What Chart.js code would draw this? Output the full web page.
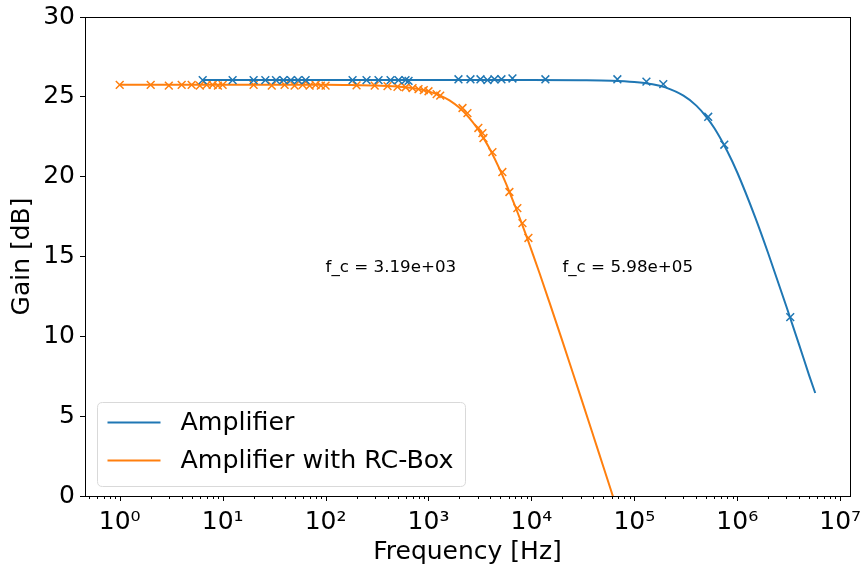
<!DOCTYPE html>
<html>
<head>
<meta charset="utf-8">
<script src="https://cdn.jsdelivr.net/npm/chart.js@4.4.0/dist/chart.umd.min.js"></script>
<style>
  html, body { margin: 0; padding: 0; background: #fff; }
</style>
</head>
<body>
<canvas id="chart" width="863" height="567"></canvas>
<script>
// measured points (x markers)
const ampFreq = [6.4, 12.5, 20, 26, 33, 39, 46, 54, 64, 183, 250, 327, 428, 511, 598, 640,
  1955, 2557, 3199, 3741, 4374, 5115, 6541, 13670, 68400, 131000, 191000, 522000, 748000, 3270000];
const ampGain = [26.05, 26.05, 26.05, 26.05, 26.05, 26.05, 26.05, 26.05, 26.05, 26.05, 26.05, 26.05, 26.05, 26.05, 26.05, 26.0,
  26.1, 26.1, 26.1, 26.05, 26.1, 26.1, 26.15, 26.1, 26.1, 25.95, 25.8, 23.75, 22.0, 11.2];

const rcFreq = [1, 2, 3, 4, 5, 6, 7, 8, 9, 10, 20, 30, 40, 50, 60, 70, 80, 90, 100,
  200, 300, 400, 500, 600, 700, 800, 900, 1000, 1200, 1300,
  2140, 2390, 3050, 3340, 3420, 4180, 5220, 6110, 7300, 8180, 9350];
const rcGain = [25.75, 25.75, 25.7, 25.75, 25.75, 25.7, 25.75, 25.75, 25.7, 25.75, 25.75, 25.7, 25.75, 25.7, 25.75, 25.7, 25.75, 25.7, 25.7,
  25.72, 25.7, 25.67, 25.63, 25.6, 25.55, 25.48, 25.42, 25.35, 25.17, 25.08,
  24.3, 23.98, 23.05, 22.73, 22.42, 21.54, 20.29, 19.04, 18.03, 17.09, 16.16];

// fitted curves (lines)
const ampFitFreq = [6.4, 100, 1000, 10000, 30000, 60000, 100000, 150000, 200000, 300000, 400000, 500000,
  600000, 800000, 1000000, 1500000, 2000000, 3000000, 4000000, 5000000, 5720000];
const ampFitGain = [26.05, 26.05, 26.05, 26.05, 26.04, 26.01, 25.93, 25.79, 25.59, 25.07, 24.45, 23.75,
  23.03, 21.59, 20.26, 17.42, 15.19, 11.87, 9.45, 7.54, 6.45];

const rcFitFreq = [1, 10, 100, 200, 300, 500, 700, 1000, 1300, 1600, 2000, 2500, 3000, 3500, 4000, 5000,
  6000, 7000, 8000, 9000, 10000, 12000, 15000, 20000, 25000, 30000, 40000, 50000, 61800];
const rcFitGain = [25.75, 25.75, 25.75, 25.73, 25.71, 25.64, 25.55, 25.34, 25.08, 24.78, 24.31, 23.67, 23.0, 22.32, 21.65, 20.36,
  19.18, 18.10, 17.12, 16.23, 15.40, 13.95, 12.11, 9.70, 7.80, 6.24, 3.76, 1.83, 0];

const seriesLabels = ['Amplifier', 'Amplifier with RC-Box'];
const xMajorExps = [0, 1, 2, 3, 4, 5, 6, 7];
const yTicks = [0, 5, 10, 15, 20, 25, 30];
const notes = [
  { x: 100, y: 14, text: 'f_c = 3.19e+03' },
  { x: 20000, y: 14, text: 'f_c = 5.98e+05' }
];

const BLUE = '#1f77b4';
const ORANGE = '#ff7f0e';
const FONT = 'DejaVu Sans';
const sup = ['⁰', '¹', '²', '³', '⁴', '⁵', '⁶', '⁷', '⁸', '⁹'];

const pts = (xs, ys) => xs.map((x, i) => ({ x: x, y: ys[i] }));

function markerSet(xs, ys, color) {
  return {
    data: pts(xs, ys),
    showLine: false,
    pointStyle: 'crossRot',
    pointRadius: 5.5,
    pointBorderWidth: 1.5,
    borderColor: color,
    backgroundColor: color
  };
}

function fitSet(xs, ys, color, label) {
  return {
    label: label,
    inLegend: true,
    data: pts(xs, ys),
    showLine: true,
    pointRadius: 0,
    borderWidth: 2,
    borderColor: color,
    backgroundColor: color,
    cubicInterpolationMode: 'monotone'
  };
}

const frameAndTicks = {
  id: 'frameAndTicks',
  afterDraw(chart) {
    const ctx = chart.ctx;
    const a = chart.chartArea;
    const xs = chart.scales.x;
    ctx.save();
    ctx.strokeStyle = '#000';
    ctx.lineWidth = 1;
    // x tick marks, majors longer than minors
    xs.ticks.forEach(t => {
      const px = Math.round(xs.getPixelForValue(t.value)) + 0.5;
      const len = t.major ? 5 : 3;
      ctx.beginPath();
      ctx.moveTo(px, a.bottom);
      ctx.lineTo(px, a.bottom + len);
      ctx.stroke();
    });
    ctx.strokeRect(Math.round(a.left) + 0.5, Math.round(a.top) + 0.5,
      Math.round(a.right - a.left), Math.round(a.bottom - a.top));
    ctx.restore();
  }
};

const notesAndLegend = {
  id: 'notesAndLegend',
  afterDatasetsDraw(chart) {
    const ctx = chart.ctx;
    const a = chart.chartArea;
    const xs = chart.scales.x, ys = chart.scales.y;
    ctx.save();
    ctx.fillStyle = '#000';
    ctx.font = '16.7px "' + FONT + '"';
    ctx.textAlign = 'left';
    ctx.textBaseline = 'alphabetic';
    notes.forEach(n => ctx.fillText(n.text, xs.getPixelForValue(n.x), ys.getPixelForValue(n.y)));

    // legend box, lower left
    const items = chart.data.datasets.filter(d => d.inLegend);
    const bx = a.left + 12.5, bw = 368, bh = 84;
    const by = a.bottom - 10 - bh + 0.5;
    const r = 5;
    ctx.beginPath();
    ctx.moveTo(bx + r, by);
    ctx.lineTo(bx + bw - r, by);
    ctx.quadraticCurveTo(bx + bw, by, bx + bw, by + r);
    ctx.lineTo(bx + bw, by + bh - r);
    ctx.quadraticCurveTo(bx + bw, by + bh, bx + bw - r, by + bh);
    ctx.lineTo(bx + r, by + bh);
    ctx.quadraticCurveTo(bx, by + bh, bx, by + bh - r);
    ctx.lineTo(bx, by + r);
    ctx.quadraticCurveTo(bx, by, bx + r, by);
    ctx.closePath();
    ctx.fillStyle = 'rgba(255,255,255,0.8)';
    ctx.fill();
    ctx.strokeStyle = '#d9d9d9';
    ctx.lineWidth = 1;
    ctx.stroke();

    ctx.font = '25.3px "' + FONT + '"';
    ctx.textBaseline = 'middle';
    items.forEach((d, i) => {
      const cy = by + 20 + i * 38;
      ctx.strokeStyle = d.borderColor;
      ctx.lineWidth = 2;
      ctx.beginPath();
      ctx.moveTo(bx + 10, cy);
      ctx.lineTo(bx + 63, cy);
      ctx.stroke();
      ctx.fillStyle = '#000';
      ctx.fillText(d.label, bx + 83, cy + 1);
    });
    ctx.restore();
  }
};

new Chart(document.getElementById('chart'), {
  type: 'scatter',
  data: {
    datasets: [
      markerSet(ampFreq, ampGain, BLUE),
      fitSet(ampFitFreq, ampFitGain, BLUE, seriesLabels[0]),
      markerSet(rcFreq, rcGain, ORANGE),
      fitSet(rcFitFreq, rcFitGain, ORANGE, seriesLabels[1])
    ]
  },
  options: {
    responsive: false,
    animation: false,
    layout: { padding: { top: 17, right: 13, left: 0, bottom: 0 } },
    plugins: {
      legend: { display: false },
      tooltip: { enabled: false }
    },
    scales: {
      x: {
        type: 'logarithmic',
        min: 0.46,
        max: 1.245e7,
        afterBuildTicks(scale) {
          const ticks = [];
          for (let e = -1; e <= 7; e++) {
            for (let m = 1; m <= 9; m++) {
              const v = m * Math.pow(10, e);
              if (v < scale.min || v > scale.max) continue;
              const major = m === 1 && xMajorExps.includes(e);
              ticks.push({ value: v, major: major });
            }
          }
          scale.ticks = ticks;
        },
        afterFit(scale) {
          scale.height = 71;
          scale.paddingLeft = 0;
          scale.paddingRight = 0;
        },
        ticks: {
          autoSkip: false,
          maxRotation: 0,
          minRotation: 0,
          padding: 6,
          color: '#000',
          font: { family: FONT, size: 25 },
          callback: v => {
            const e = Math.round(Math.log10(v));
            if (Math.abs(Math.log10(v) - e) > 1e-9) return '';
            return '10' + String(e).split('').map(c => sup[+c]).join('');
          }
        },
        grid: { display: true, drawOnChartArea: false, drawTicks: true, tickLength: 5, tickColor: 'rgba(0,0,0,0)' },
        border: { display: true, color: '#000', width: 1 },
        title: {
          display: true,
          text: 'Frequency [Hz]',
          color: '#000',
          font: { family: FONT, size: 25 },
          padding: { top: 0, bottom: 0 }
        }
      },
      y: {
        type: 'linear',
        min: 0,
        max: 30,
        afterBuildTicks(scale) {
          scale.ticks = yTicks.map(v => ({ value: v }));
        },
        afterFit(scale) {
          scale.width = 85;
          scale.paddingTop = 0;
          scale.paddingBottom = 0;
        },
        ticks: {
          padding: 5,
          color: '#000',
          font: { family: FONT, size: 25 }
        },
        grid: { display: true, drawOnChartArea: false, drawTicks: true, tickLength: 5, tickColor: '#000' },
        border: { display: true, color: '#000', width: 1 },
        title: {
          display: true,
          text: 'Gain [dB]',
          color: '#000',
          font: { family: FONT, size: 25 },
          padding: { top: 7, bottom: 0 }
        }
      }
    }
  },
  plugins: [frameAndTicks, notesAndLegend]
});
</script>
</body>
</html>
